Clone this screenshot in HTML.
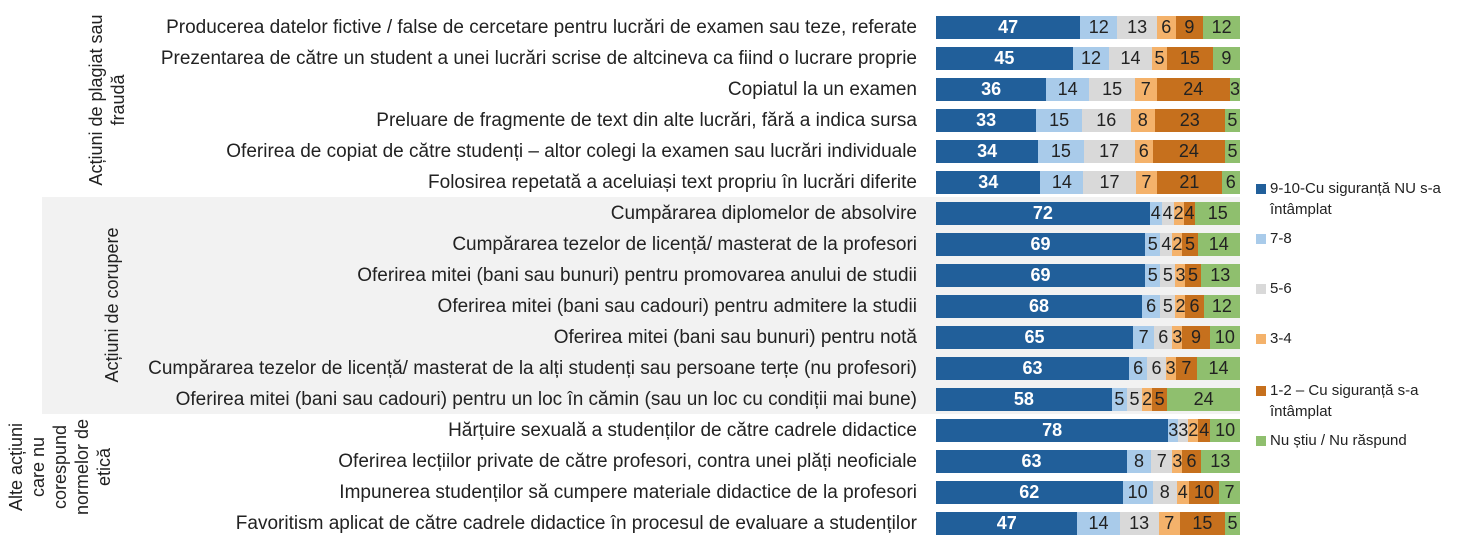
<!DOCTYPE html>
<html><head><meta charset="utf-8"><style>
body{margin:0;width:1461px;height:546px;background:#fff;position:relative;overflow:hidden;font-family:"Liberation Sans",sans-serif;color:#222}
.band{position:absolute;left:42px;top:197px;width:1198px;height:217px;background:#f2f2f2}
.lab{position:absolute;right:544px;font-size:19px;line-height:23px;white-space:nowrap;color:#222}
.row{position:absolute;left:936px;width:304px;height:23px;display:flex;font-size:18px;line-height:23px}
.row span{display:block;text-align:center;overflow:visible;white-space:nowrap}
.a{background:#215f9a;color:#fff;font-weight:bold}
.b{background:#a9cbea}.c{background:#d9d9d9}.d{background:#f4b26b}.e{background:#c6701d}.f{background:#8fbf6e}
.grp{position:absolute;font-size:18px;line-height:22px;text-align:center;transform:rotate(-90deg);transform-origin:center;white-space:nowrap}
.leg{position:absolute;left:1256px;font-size:15px;line-height:21px;color:#222}
.leg i{position:absolute;left:0;top:6px;width:10px;height:10px}
.leg div{margin-left:14px}
</style></head><body>
<div class="band"></div>

<div class="grp" style="left:12px;top:78px;width:190px;height:44px">Acțiuni de plagiat sau<br>fraudă</div>
<div class="grp" style="left:32px;top:294px;width:160px;height:22px">Acțiuni de corupere</div>
<div class="grp" style="left:5px;top:412px;width:110px;height:110px">Alte acțiuni<br>care nu<br>corespund<br>normelor de<br>etică</div>

<div class="lab" style="top:16px">Producerea datelor fictive / false de cercetare pentru lucrări de examen sau teze, referate</div>
<div class="lab" style="top:47px">Prezentarea de către un student a unei lucrări scrise de altcineva ca fiind o lucrare proprie</div>
<div class="lab" style="top:78px">Copiatul la un examen</div>
<div class="lab" style="top:109px">Preluare de fragmente de text din alte lucrări, fără a indica sursa</div>
<div class="lab" style="top:140px">Oferirea de copiat de către studenți – altor colegi la examen sau lucrări individuale</div>
<div class="lab" style="top:171px">Folosirea repetată a aceluiași text propriu în lucrări diferite</div>
<div class="lab" style="top:202px">Cumpărarea diplomelor de absolvire</div>
<div class="lab" style="top:233px">Cumpărarea tezelor de licență/ masterat de la profesori</div>
<div class="lab" style="top:264px">Oferirea mitei (bani sau bunuri) pentru promovarea anului de studii</div>
<div class="lab" style="top:295px">Oferirea mitei (bani sau cadouri) pentru admitere la studii</div>
<div class="lab" style="top:326px">Oferirea mitei (bani sau bunuri) pentru notă</div>
<div class="lab" style="top:357px">Cumpărarea tezelor de licență/ masterat de la alți studenți sau persoane terțe (nu profesori)</div>
<div class="lab" style="top:388px">Oferirea mitei (bani sau cadouri) pentru un loc în cămin (sau un loc cu condiții mai bune)</div>
<div class="lab" style="top:419px">Hărțuire sexuală a studenților de către cadrele didactice</div>
<div class="lab" style="top:450px">Oferirea lecțiilor private de către profesori, contra unei plăți neoficiale</div>
<div class="lab" style="top:481px">Impunerea studenților să cumpere materiale didactice de la profesori</div>
<div class="lab" style="top:512px">Favoritism aplicat de către cadrele didactice în procesul de evaluare a studenților</div>

<div class="row" style="top:16px"><span class="a" style="flex:47">47</span><span class="b" style="flex:12">12</span><span class="c" style="flex:13">13</span><span class="d" style="flex:6">6</span><span class="e" style="flex:9">9</span><span class="f" style="flex:12">12</span></div>
<div class="row" style="top:47px"><span class="a" style="flex:45">45</span><span class="b" style="flex:12">12</span><span class="c" style="flex:14">14</span><span class="d" style="flex:5">5</span><span class="e" style="flex:15">15</span><span class="f" style="flex:9">9</span></div>
<div class="row" style="top:78px"><span class="a" style="flex:36">36</span><span class="b" style="flex:14">14</span><span class="c" style="flex:15">15</span><span class="d" style="flex:7">7</span><span class="e" style="flex:24">24</span><span class="f" style="flex:3">3</span></div>
<div class="row" style="top:109px"><span class="a" style="flex:33">33</span><span class="b" style="flex:15">15</span><span class="c" style="flex:16">16</span><span class="d" style="flex:8">8</span><span class="e" style="flex:23">23</span><span class="f" style="flex:5">5</span></div>
<div class="row" style="top:140px"><span class="a" style="flex:34">34</span><span class="b" style="flex:15">15</span><span class="c" style="flex:17">17</span><span class="d" style="flex:6">6</span><span class="e" style="flex:24">24</span><span class="f" style="flex:5">5</span></div>
<div class="row" style="top:171px"><span class="a" style="flex:34">34</span><span class="b" style="flex:14">14</span><span class="c" style="flex:17">17</span><span class="d" style="flex:7">7</span><span class="e" style="flex:21">21</span><span class="f" style="flex:6">6</span></div>
<div class="row" style="top:202px"><span class="a" style="flex:72">72</span><span class="b" style="flex:4">4</span><span class="c" style="flex:4">4</span><span class="d" style="flex:2">2</span><span class="e" style="flex:4">4</span><span class="f" style="flex:15">15</span></div>
<div class="row" style="top:233px"><span class="a" style="flex:69">69</span><span class="b" style="flex:5">5</span><span class="c" style="flex:4">4</span><span class="d" style="flex:2">2</span><span class="e" style="flex:5">5</span><span class="f" style="flex:14">14</span></div>
<div class="row" style="top:264px"><span class="a" style="flex:69">69</span><span class="b" style="flex:5">5</span><span class="c" style="flex:5">5</span><span class="d" style="flex:3">3</span><span class="e" style="flex:5">5</span><span class="f" style="flex:13">13</span></div>
<div class="row" style="top:295px"><span class="a" style="flex:68">68</span><span class="b" style="flex:6">6</span><span class="c" style="flex:5">5</span><span class="d" style="flex:2">2</span><span class="e" style="flex:6">6</span><span class="f" style="flex:12">12</span></div>
<div class="row" style="top:326px"><span class="a" style="flex:65">65</span><span class="b" style="flex:7">7</span><span class="c" style="flex:6">6</span><span class="d" style="flex:3">3</span><span class="e" style="flex:9">9</span><span class="f" style="flex:10">10</span></div>
<div class="row" style="top:357px"><span class="a" style="flex:63">63</span><span class="b" style="flex:6">6</span><span class="c" style="flex:6">6</span><span class="d" style="flex:3">3</span><span class="e" style="flex:7">7</span><span class="f" style="flex:14">14</span></div>
<div class="row" style="top:388px"><span class="a" style="flex:58">58</span><span class="b" style="flex:5">5</span><span class="c" style="flex:5">5</span><span class="d" style="flex:2">2</span><span class="e" style="flex:5">5</span><span class="f" style="flex:24">24</span></div>
<div class="row" style="top:419px"><span class="a" style="flex:78">78</span><span class="b" style="flex:3">3</span><span class="c" style="flex:3">3</span><span class="d" style="flex:2">2</span><span class="e" style="flex:4">4</span><span class="f" style="flex:10">10</span></div>
<div class="row" style="top:450px"><span class="a" style="flex:63">63</span><span class="b" style="flex:8">8</span><span class="c" style="flex:7">7</span><span class="d" style="flex:3">3</span><span class="e" style="flex:6">6</span><span class="f" style="flex:13">13</span></div>
<div class="row" style="top:481px"><span class="a" style="flex:62">62</span><span class="b" style="flex:10">10</span><span class="c" style="flex:8">8</span><span class="d" style="flex:4">4</span><span class="e" style="flex:10">10</span><span class="f" style="flex:7">7</span></div>
<div class="row" style="top:512px"><span class="a" style="flex:47">47</span><span class="b" style="flex:14">14</span><span class="c" style="flex:13">13</span><span class="d" style="flex:7">7</span><span class="e" style="flex:15">15</span><span class="f" style="flex:5">5</span></div>

<div class="leg" style="top:178px"><i style="background:#215f9a"></i><div>9-10-Cu siguranță NU s-a<br>întâmplat</div></div>
<div class="leg" style="top:228px"><i style="background:#a9cbea"></i><div>7-8</div></div>
<div class="leg" style="top:278px"><i style="background:#d9d9d9"></i><div>5-6</div></div>
<div class="leg" style="top:328px"><i style="background:#f4b26b"></i><div>3-4</div></div>
<div class="leg" style="top:380px"><i style="background:#c6701d"></i><div>1-2 – Cu siguranță s-a<br>întâmplat</div></div>
<div class="leg" style="top:430px"><i style="background:#8fbf6e"></i><div>Nu știu / Nu răspund</div></div>
</body></html>
